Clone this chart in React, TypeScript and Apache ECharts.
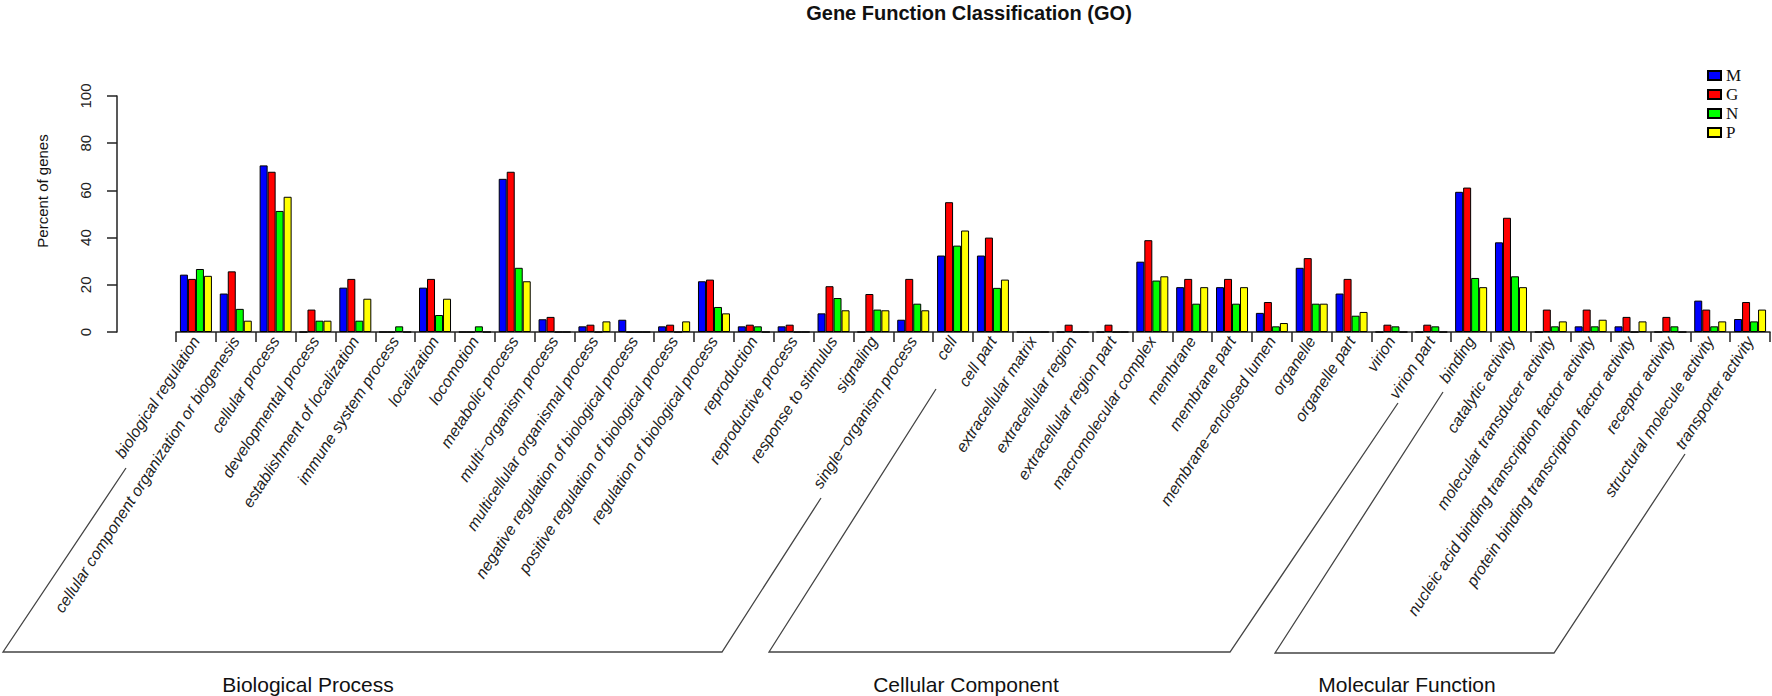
import React, { useEffect, useRef } from "react";
import * as echarts from "echarts";

const categories = [
  "biological regulation",
  "cellular component organization or biogenesis",
  "cellular process",
  "developmental process",
  "establishment of localization",
  "immune system process",
  "localization",
  "locomotion",
  "metabolic process",
  "multi\u2212organism process",
  "multicellular organismal process",
  "negative regulation of biological process",
  "positive regulation of biological process",
  "regulation of biological process",
  "reproduction",
  "reproductive process",
  "response to stimulus",
  "signaling",
  "single\u2212organism process",
  "cell",
  "cell part",
  "extracellular matrix",
  "extracellular region",
  "extracellular region part",
  "macromolecular complex",
  "membrane",
  "membrane part",
  "membrane\u2212enclosed lumen",
  "organelle",
  "organelle part",
  "virion",
  "virion part",
  "binding",
  "catalytic activity",
  "molecular transducer activity",
  "nucleic acid binding transcription factor activity",
  "protein binding transcription factor activity",
  "receptor activity",
  "structural molecule activity",
  "transporter activity",
];

const seriesNames = ["M", "G", "N", "P"];
const seriesColors = ["#0000FF", "#FF0000", "#00FF00", "#FFFF00"];

const valuesM = [24.3, 16.3, 70.6, 0, 18.8, 0, 18.8, 0, 64.9, 5.4, 2.4, 5.2, 2.4, 21.5, 2.4, 2.4, 7.9, 0, 5.2,
  32.4, 32.4, 0, 0, 0, 29.8, 19.0, 19.0, 8.1, 27.2, 16.3, 0, 0,
  59.4, 38.0, 0, 2.4, 2.4, 0, 13.3, 5.5];
const valuesG = [22.5, 25.7, 67.9, 9.5, 22.5, 0, 22.5, 0, 67.9, 6.4, 3.1, 0, 3.1, 22.2, 3.1, 3.1, 19.4, 16.1, 22.5,
  55.0, 40.0, 0, 3.1, 3.1, 38.9, 22.5, 22.5, 12.7, 31.3, 22.5, 3.1, 3.1,
  61.2, 48.4, 9.5, 9.5, 6.4, 6.4, 9.5, 12.7];
const valuesN = [26.7, 9.8, 51.3, 4.8, 4.8, 2.4, 7.2, 2.4, 27.2, 0, 0, 0, 0, 10.6, 2.4, 0, 14.4, 9.5, 12.0,
  36.6, 18.7, 0, 0, 0, 21.8, 12.0, 12.0, 2.4, 12.0, 6.9, 2.4, 2.4,
  22.9, 23.6, 2.4, 2.4, 0, 2.4, 2.4, 4.5];
const valuesP = [23.8, 4.8, 57.3, 4.8, 14.1, 0, 14.1, 0, 21.5, 0, 4.5, 0, 4.5, 7.9, 0, 0, 9.2, 9.2, 9.2,
  43.0, 22.2, 0, 0, 0, 23.6, 19.0, 19.0, 3.8, 12.0, 8.5, 0, 0,
  19.0, 19.0, 4.5, 5.2, 4.5, 0, 4.5, 9.5];
const seriesValues = [valuesM, valuesG, valuesN, valuesP];

const yMin = 0;
const yMax = 100;
const yInterval = 20;

const titleText = "Gene Function Classification (GO)";
const yAxisTitle = "Percent of genes";
const groupLabels = ["Biological Process", "Cellular Component", "Molecular Function"];

export default function App() {
  const ref = useRef<HTMLDivElement>(null);

  useEffect(() => {
    document.body.style.margin = "0";
    const chart = echarts.init(ref.current!, null, { renderer: "svg" });

    const bracketStyle = { stroke: "#444", lineWidth: 1.3, fill: "none" };
    const brackets = [
      [[126, 468], [3, 652], [722, 652], [821, 498]],
      [[936, 389], [769, 652], [1230, 652], [1398, 403]],
      [[1443, 392], [1275, 653], [1554, 653], [1685, 454]],
    ];
    const groupLabelX = [308, 966, 1407];

    chart.setOption({
      animation: false,
      backgroundColor: "#ffffff",
      textStyle: { fontFamily: "Liberation Sans, Arial, sans-serif" },
      grid: { left: 176, top: 96, width: 1594, height: 236, containLabel: false },
      legend: {
        orient: "vertical",
        left: 1702,
        top: 62,
        itemWidth: 13,
        itemHeight: 9,
        itemGap: 2,
        icon: "rect",
        textStyle: { fontFamily: "Liberation Serif, Times New Roman, serif", fontSize: 17, color: "#111" },
        data: seriesNames,
      },
      xAxis: {
        type: "category",
        data: categories,
        boundaryGap: true,
        axisLine: { show: true, lineStyle: { color: "#222", width: 1.5 } },
        axisTick: { show: true, length: 10, inside: false, lineStyle: { color: "#222", width: 1.5 } },
        axisLabel: {
          interval: 0,
          rotate: 57,
          margin: 6,
          fontSize: 16,
          fontStyle: "italic",
          color: "#222",
          fontFamily: "Liberation Sans, Arial, sans-serif",
        },
      },
      yAxis: {
        type: "value",
        min: yMin,
        max: yMax,
        interval: yInterval,
        offset: 59,
        axisLine: { show: true, lineStyle: { color: "#222", width: 1.5 } },
        axisTick: { show: true, length: 10, lineStyle: { color: "#222", width: 1.5 } },
        axisLabel: { rotate: 90, margin: 24, fontSize: 15, color: "#222" },
        splitLine: { show: false },
      },
      series: seriesNames.map((name, i) => ({
        name,
        type: "bar",
        data: seriesValues[i],
        barWidth: 8,
        barGap: "0%",
        itemStyle: { color: seriesColors[i], borderColor: "#000", borderWidth: 1 },
      })),
      graphic: [
        {
          type: "text",
          x: 969,
          y: 13,
          style: {
            text: titleText,
            font: "bold 20px 'Liberation Sans', Arial, sans-serif",
            fill: "#111",
            align: "center",
            verticalAlign: "middle",
          },
        },
        {
          type: "text",
          x: 42,
          y: 191,
          rotation: Math.PI / 2,
          style: {
            text: yAxisTitle,
            font: "15px 'Liberation Sans', Arial, sans-serif",
            fill: "#111",
            align: "center",
            verticalAlign: "middle",
          },
        },
        ...brackets.map((pts) => ({
          type: "polyline",
          shape: { points: pts },
          style: bracketStyle,
        })),
        ...groupLabels.map((t, i) => ({
          type: "text",
          x: groupLabelX[i],
          y: 684,
          style: {
            text: t,
            font: "21px 'Liberation Sans', Arial, sans-serif",
            fill: "#111",
            align: "center",
            verticalAlign: "middle",
          },
        })),
      ],
    });

    return () => chart.dispose();
  }, []);

  return <div ref={ref} style={{ width: 1772, height: 696 }} />;
}
